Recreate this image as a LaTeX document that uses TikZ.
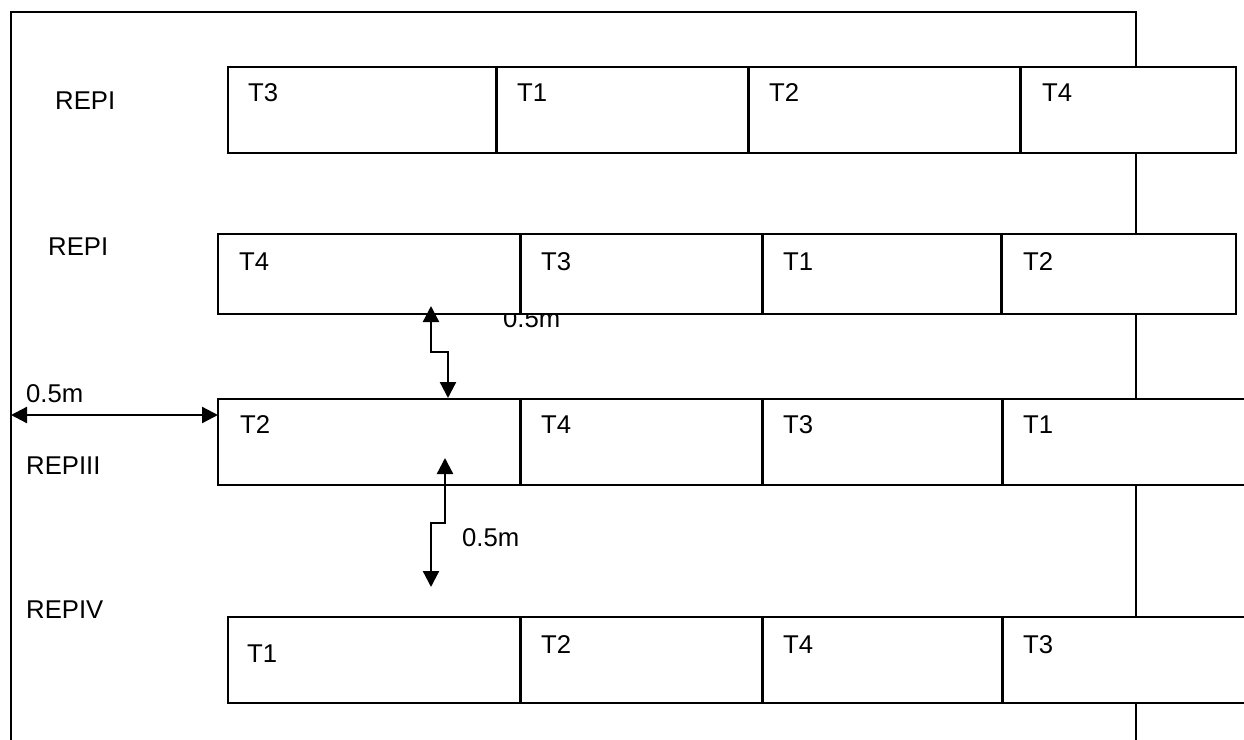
\documentclass[tikz,border=0pt]{standalone}
\usepackage{fontspec}
\setmainfont{Liberation Sans}
\usetikzlibrary{arrows.meta}
\begin{document}
\begin{tikzpicture}[x=1bp,y=-1bp,
  every node/.style={font=\fontsize{25.7bp}{30bp}\selectfont},
  rule/.style={line width=2bp,black},
  cellbox/.style={draw=black,line width=1.7bp,fill=white,rectangle,inner sep=0pt,outer sep=0pt,anchor=north west},
  txt/.style={inner sep=0pt,anchor=base west},
  dim/.style={line width=2.3bp,{Triangle[length=16bp,width=16bp]}-{Triangle[length=16bp,width=16bp]}}
]
\useasboundingbox (0,0) rectangle (1244,740);
\clip (0,0) rectangle (1244,740);

% outer frame
\draw[rule] (11,740) -- (11,12) -- (1136,12) -- (1136,740);

% dimension text partly hidden by the box above it
\node[txt] (d2) at (503,327) {0.5m};

% row 1
\node[cellbox,minimum width=269,minimum height=86] (r1a) at (228,67) {};
\node[cellbox,minimum width=252,minimum height=86] (r1b) at (497,67) {};
\node[cellbox,minimum width=272,minimum height=86] (r1c) at (749,67) {};
\node[cellbox,minimum width=216,minimum height=86] (r1d) at (1021,67) {};
\node[txt] at (248,102) {T3};
\node[txt] at (517,102) {T1};
\node[txt] at (769,102) {T2};
\node[txt] at (1042,102) {T4};
\node[txt] (rep1) at (55,110) {REPI};

% row 2
\node[cellbox,minimum width=303,minimum height=80] (r2a) at (218,234) {};
\node[cellbox,minimum width=242,minimum height=80] (r2b) at (521,234) {};
\node[cellbox,minimum width=239,minimum height=80] (r2c) at (763,234) {};
\node[cellbox,minimum width=235,minimum height=80] (r2d) at (1002,234) {};
\node[txt] at (239,270) {T4};
\node[txt] at (541,270) {T3};
\node[txt] at (783,270) {T1};
\node[txt] at (1023,270) {T2};
\node[txt] (rep2) at (48,255) {REPI};

% row 3
\node[cellbox,minimum width=303,minimum height=86] (r3a) at (218,399) {};
\node[cellbox,minimum width=242,minimum height=86] (r3b) at (521,399) {};
\node[cellbox,minimum width=240,minimum height=86] (r3c) at (763,399) {};
\node[cellbox,minimum width=260,minimum height=86] (r3d) at (1003,399) {};
\node[txt] at (240,433) {T2};
\node[txt] at (541,433) {T4};
\node[txt] at (783,433) {T3};
\node[txt] at (1023,433) {T1};
\node[txt] (rep3) at (26,474) {REPIII};

% row 4
\node[cellbox,minimum width=293,minimum height=86] (r4a) at (228,617) {};
\node[cellbox,minimum width=242,minimum height=86] (r4b) at (521,617) {};
\node[cellbox,minimum width=240,minimum height=86] (r4c) at (763,617) {};
\node[cellbox,minimum width=260,minimum height=86] (r4d) at (1003,617) {};
\node[txt] at (247,662) {T1};
\node[txt] at (541,653) {T2};
\node[txt] at (783,653) {T4};
\node[txt] at (1023,653) {T3};
\node[txt] (rep4) at (26,618) {REPIV};

% spacing dimensions
\node[txt] (d1) at (26,402) {0.5m};
\node[txt] (d3) at (462,546) {0.5m};

\coordinate (h0) at (11,415);
\coordinate (a1s) at (431,306);
\coordinate (a1e) at (448,398);
\coordinate (a2s) at (445,458);
\coordinate (a2e) at (431,587);

\draw[dim] (h0) -- (r3a.west |- h0);
\draw[dim] (a1s) -- (431,352) -- (448,352) -- (a1e);
\draw[dim] (a2s) -- (445,523) -- (431,523) -- (a2e);
\end{tikzpicture}
\end{document}
